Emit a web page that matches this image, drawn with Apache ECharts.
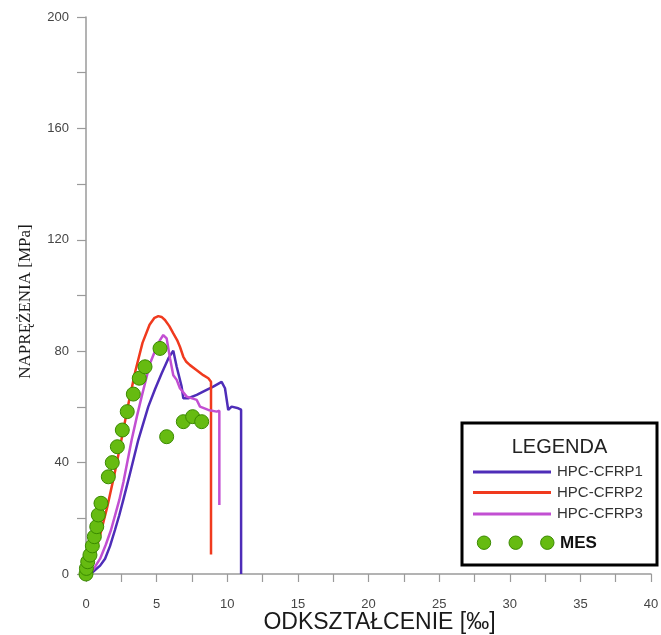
<!DOCTYPE html>
<html>
<head>
<meta charset="utf-8">
<script src="https://cdn.jsdelivr.net/npm/echarts@6/dist/echarts.min.js"></script>
<style>
  html, body { margin: 0; padding: 0; background: #ffffff; }
  #chart { width: 661px; height: 635px; }
</style>
</head>
<body>
<div id="chart"></div>
<script>
// Stress–strain curves: strain [‰] vs stress [MPa]
const seriesNames = ['HPC-CFRP1', 'HPC-CFRP2', 'HPC-CFRP3', 'MES'];
const seriesColors = ['#4E2DB8', '#F03A1E', '#C24FD2', '#66BB11'];

const cfrp1 = [
  [0, 0], [0.5, 0.8], [1.0, 3.0], [1.35, 5.5], [1.7, 10], [2.05, 15.8], [2.35, 21],
  [2.64, 26.6], [3.12, 36.2], [3.7, 48.1], [4.41, 60.1], [4.9, 66.5], [5.36, 72.1],
  [5.83, 77.4], [6.18, 80.2], [6.42, 74.4], [6.77, 67.3], [6.89, 63.1], [7.24, 63.1],
  [7.84, 64.3], [8.54, 66.1], [9.01, 67.3], [9.6, 69.0], [9.84, 66.7], [10.07, 58.9],
  [10.31, 60.1], [10.78, 59.5], [10.98, 59.0], [10.98, 0]
];
const cfrp2 = [
  [0, 0], [0.5, 5], [1.0, 14], [1.5, 24], [2.0, 35.5], [2.5, 48], [3.0, 61], [3.5, 73],
  [4.0, 83], [4.5, 89.5], [4.85, 92], [5.12, 92.6], [5.35, 92.3], [5.59, 91.2], [5.9, 89],
  [6.18, 86.4], [6.45, 84], [6.65, 81.6], [6.89, 78], [7.1, 76.2], [7.36, 75], [7.84, 73.2],
  [8.3, 71.4], [8.66, 70.3], [8.85, 69], [8.85, 7]
];
const cfrp3 = [
  [0, 0], [0.5, 1.5], [1.0, 5.5], [1.4, 10.5], [1.77, 15.8], [2.36, 26.6], [2.65, 33],
  [3.23, 48.1], [3.6, 56.5], [3.94, 63.7], [4.53, 75.6], [5.0, 81.5], [5.24, 84],
  [5.47, 85.8], [5.71, 84.6], [5.95, 77.4], [6.18, 71.4], [6.42, 69.7], [6.65, 66.7],
  [7.13, 63.7], [7.84, 62.5], [8.07, 60.1], [8.66, 58.9], [9.25, 58.3], [9.44, 58.6],
  [9.44, 24.8]
];
const mes = [
  [0, 0], [0.03, 2.0], [0.12, 4.4], [0.28, 6.8], [0.45, 10.1], [0.59, 13.4], [0.76, 17.0],
  [0.87, 21.2], [1.06, 25.4], [1.58, 34.9], [1.86, 40.0], [2.22, 45.7], [2.57, 51.7],
  [2.92, 58.3], [3.35, 64.6], [3.77, 70.3], [4.18, 74.4], [5.24, 81.0], [5.71, 49.3],
  [6.89, 54.7], [7.55, 56.5], [8.19, 54.7]
];

const xTicks = [0, 5, 10, 15, 20, 25, 30, 35, 40];
const yTicks = [0, 40, 80, 120, 160, 200];

const chart = echarts.init(document.getElementById('chart'), null, { renderer: 'canvas' });

const axisGray = '#9a9a9a';
const labelGray = '#454545';

function lineSeries(i, data) {
  return {
    name: seriesNames[i], type: 'line', data: data,
    showSymbol: false, symbol: 'none',
    lineStyle: { color: seriesColors[i], width: 2.5 },
    itemStyle: { color: seriesColors[i] },
    z: 2 + i
  };
}

// Legend box drawn as graphic elements
const lg = { x: 462, y: 423, w: 195, h: 142 };
const legendGraphic = [
  { type: 'rect', shape: { x: lg.x, y: lg.y, width: lg.w, height: lg.h },
    style: { fill: '#ffffff', stroke: '#000000', lineWidth: 3 }, z: 20 },
  { type: 'text', x: lg.x + lg.w / 2, y: 447, z: 21,
    style: { text: 'LEGENDA', fill: '#222', font: '20px "Liberation Sans", Arial, sans-serif',
             align: 'center', verticalAlign: 'middle' } }
];
[472, 492.5, 514].forEach(function (yy, i) {
  legendGraphic.push({ type: 'line', z: 21,
    shape: { x1: 473, y1: yy, x2: 551, y2: yy },
    style: { stroke: seriesColors[i], lineWidth: 3 } });
  legendGraphic.push({ type: 'text', x: 557, y: yy, z: 21,
    style: { text: seriesNames[i], fill: '#333', font: '15px "Liberation Sans", Arial, sans-serif',
             verticalAlign: 'middle' } });
});
[484, 515.7, 547.3].forEach(function (xx) {
  legendGraphic.push({ type: 'circle', z: 21, shape: { cx: xx, cy: 542.7, r: 6.7 },
    style: { fill: seriesColors[3], stroke: '#3A8A00', lineWidth: 1 } });
});
legendGraphic.push({ type: 'text', x: 560, y: 543, z: 21,
  style: { text: seriesNames[3], fill: '#111', font: 'bold 17px "Liberation Sans", Arial, sans-serif',
           verticalAlign: 'middle' } });

chart.setOption({
  animation: false,
  backgroundColor: '#ffffff',
  grid: { left: 86, right: 10, top: 17, bottom: 61, containLabel: false, outerBoundsMode: 'none' },
  xAxis: {
    type: 'value', min: 0, max: 40, interval: 2.5,
    name: 'ODKSZTAŁCENIE [‰]', nameLocation: 'middle', nameGap: 37, nameMoveOverlap: false,
    nameTextStyle: { fontFamily: '"Liberation Sans", Arial, sans-serif', fontSize: 23,
                     color: '#1a1a1a', padding: [0, 0, 0, 22] },
    axisLine: { show: true, onZero: false, lineStyle: { color: axisGray, width: 1.5 } },
    axisTick: { show: true, length: 8, lineStyle: { color: axisGray, width: 1.2 } },
    axisLabel: {
      margin: 24, fontSize: 13, color: labelGray, fontFamily: '"Liberation Sans", Arial, sans-serif',
      formatter: function (v) { return xTicks.indexOf(v) >= 0 ? String(v) : ''; }
    },
    splitLine: { show: false }
  },
  yAxis: {
    type: 'value', min: 0, max: 200, interval: 20,
    name: 'NAPRĘŻENIA [MPa]', nameLocation: 'middle', nameGap: 52,
    nameTextStyle: { fontFamily: '"Liberation Serif", "Times New Roman", serif', fontSize: 17,
                     color: '#1a1a1a', padding: [0, 12, 0, 0] },
    axisLine: { show: true, onZero: false, lineStyle: { color: axisGray, width: 1.5 } },
    axisTick: { show: true, length: 9, lineStyle: { color: axisGray, width: 1.2 } },
    axisLabel: {
      margin: 17, fontSize: 13, color: labelGray, fontFamily: '"Liberation Sans", Arial, sans-serif',
      formatter: function (v) { return yTicks.indexOf(v) >= 0 ? String(v) : ''; }
    },
    splitLine: { show: false }
  },
  series: [
    lineSeries(0, cfrp1),
    lineSeries(1, cfrp2),
    lineSeries(2, cfrp3),
    {
      name: seriesNames[3], type: 'scatter', data: mes, symbol: 'circle', symbolSize: 14,
      itemStyle: { color: seriesColors[3], borderColor: '#3A8A00', borderWidth: 1, opacity: 1 },
      z: 10
    }
  ],
  graphic: legendGraphic
});
</script>
</body>
</html>
